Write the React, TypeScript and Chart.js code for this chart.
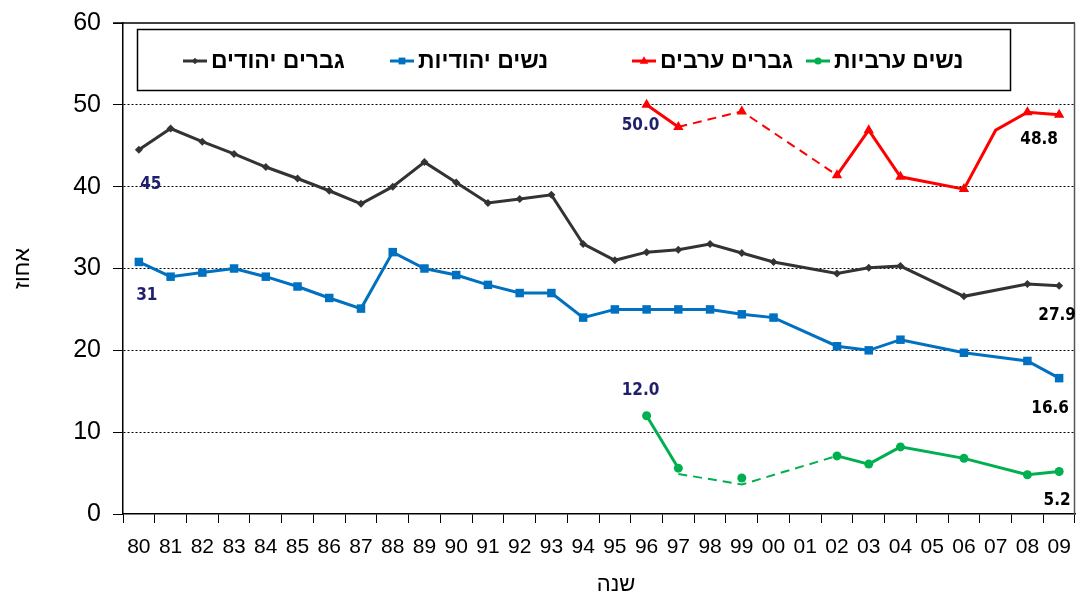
import React, { useEffect, useRef } from 'react';
import { Chart, registerables } from 'chart.js';

Chart.register(...registerables);

// ---------- data ----------
const years = ['80', '81', '82', '83', '84', '85', '86', '87', '88', '89', '90', '91', '92', '93', '94', '95', '96', '97', '98', '99', '00', '01', '02', '03', '04', '05', '06', '07', '08', '09'];

const jewishMen = [44.5, 47.1, 45.5, 44.0, 42.4, 41.0, 39.5, 37.9, 40.0, 43.0, 40.5, 38.0, 38.5, 39.0, 33.0, 31.0, 32.0, 32.3, 33.0, 31.9, 30.8, null, 29.4, 30.1, 30.3, null, 26.6, null, 28.1, 27.9];

const jewishWomen = [30.8, 29.0, 29.5, 30.0, 29.0, 27.8, 26.4, 25.1, 32.0, 30.0, 29.2, 28.0, 27.0, 27.0, 24.0, 25.0, 25.0, 25.0, 25.0, 24.4, 24.0, null, 20.5, 20.0, 21.3, null, 19.7, null, 18.7, 16.6];

const arabMen = [null, null, null, null, null, null, null, null, null, null, null, null, null, null, null, null, 50.0, 47.3, null, 49.2, null, null, 41.4, 46.9, 41.2, null, 39.7, 46.9, 49.1, 48.8];

const arabWomen = [null, null, null, null, null, null, null, null, null, null, null, null, null, null, null, null, 12.0, 5.6, null, 4.4, null, null, 7.1, 6.1, 8.2, null, 6.8, null, 4.8, 5.2];

// hand-drawn dashed link for Arab women (1997 -> 1999 -> 2002)
const arabWomenDashed = [null, null, null, null, null, null, null, null, null, null, null, null, null, null, null, null, null, 4.9, null, 3.6, null, null, 7.1, null, null, null, null, null, null, null];

const seriesNames = ['גברים יהודים', 'נשים יהודיות', 'גברים ערבים', 'נשים ערביות'];

const annotationTexts = ['45', '31', '50.0', '12.0', '48.8', '27.9', '16.6', '5.2'];

const yAxisTitle = 'אחוז';
const xAxisTitle = 'שנה';

// ---------- styles ----------
const COLORS = ['#333333', '#0070C0', '#FF0000', '#00B050'];
const NAVY = '#1F1F6B';
const POINT_STYLES = ['rectRot', 'rect', 'triangle', 'circle'];
const POINT_RADII = [4, 6, 6, 4.5];
const DASH_FROM = 17; // index of '97'
const DASH_TO = 22; // index of '02'

// annotation placement: dataset, point index, pixel offset, colour
const annotationStyle = [
  { ds: 0, idx: 0, dx: 12, dy: 35, color: NAVY },
  { ds: 1, idx: 0, dx: 8, dy: 34, color: NAVY },
  { ds: 2, idx: 16, dx: -6, dy: 21, color: NAVY },
  { ds: 3, idx: 16, dx: -6, dy: -25, color: NAVY },
  { ds: 2, idx: 29, dx: -20, dy: 25, color: '#000' },
  { ds: 0, idx: 29, dx: -2, dy: 30, color: '#000' },
  { ds: 1, idx: 29, dx: -9, dy: 30, color: '#000' },
  { ds: 3, idx: 29, dx: -2, dy: 29, color: '#000' },
];

const legendItemX = [183, 390, 632, 806];

function inDashRange(ctx: any) {
  return ctx.p0DataIndex >= DASH_FROM && ctx.p1DataIndex <= DASH_TO;
}

function drawMarker(ctx: CanvasRenderingContext2D, style: string, x: number, y: number, r: number, color: string) {
  ctx.save();
  ctx.fillStyle = color;
  ctx.strokeStyle = color;
  ctx.beginPath();
  if (style === 'rectRot') {
    ctx.moveTo(x, y - r);
    ctx.lineTo(x + r, y);
    ctx.lineTo(x, y + r);
    ctx.lineTo(x - r, y);
    ctx.closePath();
  } else if (style === 'rect') {
    const s = r * Math.SQRT1_2;
    ctx.rect(x - s, y - s, 2 * s, 2 * s);
  } else if (style === 'triangle') {
    ctx.moveTo(x, y - r);
    ctx.lineTo(x + r * 0.9, y + r * 0.55);
    ctx.lineTo(x - r * 0.9, y + r * 0.55);
    ctx.closePath();
  } else {
    ctx.arc(x, y, r, 0, Math.PI * 2);
  }
  ctx.fill();
  ctx.restore();
}

const decorPlugin = {
  id: 'decor',
  afterDatasetsDraw(chart: any) {
    const { ctx, chartArea } = chart;
    ctx.save();
    // frame: top and right
    ctx.strokeStyle = '#000';
    ctx.lineWidth = 1.5;
    ctx.beginPath();
    ctx.moveTo(chartArea.left - 10, chartArea.top);
    ctx.lineTo(chartArea.right, chartArea.top);
    ctx.stroke();
    ctx.strokeStyle = '#555';
    ctx.beginPath();
    ctx.moveTo(chartArea.right - 0.5, chartArea.top);
    ctx.lineTo(chartArea.right - 0.5, chartArea.bottom);
    ctx.stroke();

    // annotations
    ctx.textAlign = 'center';
    ctx.textBaseline = 'middle';
    annotationStyle.forEach((a, i) => {
      const pt = chart.getDatasetMeta(a.ds).data[a.idx];
      if (!pt) return;
      ctx.fillStyle = a.color;
      ctx.font = 'bold 17px "DejaVu Sans Condensed", "DejaVu Sans", sans-serif';
      ctx.fillText(annotationTexts[i], pt.x + a.dx, pt.y + a.dy);
    });

    // legend box
    const bx = 137.5, by = 29.5, bw = 873, bh = 61;
    ctx.fillStyle = '#fff';
    ctx.fillRect(bx, by, bw, bh);
    ctx.strokeStyle = '#000';
    ctx.lineWidth = 1.5;
    ctx.strokeRect(bx, by, bw, bh);
    const ly = 61;
    ctx.textAlign = 'left';
    ctx.textBaseline = 'middle';
    ctx.font = 'bold 23px "Liberation Sans", Arial, sans-serif';
    seriesNames.forEach((name, i) => {
      const x0 = legendItemX[i];
      ctx.strokeStyle = COLORS[i];
      ctx.lineWidth = 3;
      ctx.beginPath();
      ctx.moveTo(x0, ly);
      ctx.lineTo(x0 + 24, ly);
      ctx.stroke();
      drawMarker(ctx, POINT_STYLES[i], x0 + 12, ly, POINT_RADII[i] * 0.8, COLORS[i]);
      ctx.fillStyle = '#000';
      ctx.fillText(name, x0 + 28, ly + 1);
    });

    // axis titles
    ctx.fillStyle = '#000';
    ctx.font = '22px "Liberation Sans", Arial, sans-serif';
    ctx.textAlign = 'center';
    ctx.textBaseline = 'middle';
    ctx.fillText(xAxisTitle, 616, 585);
    ctx.save();
    ctx.translate(23, (chartArea.top + chartArea.bottom) / 2);
    ctx.rotate(-Math.PI / 2);
    ctx.fillText(yAxisTitle, 0, 0);
    ctx.restore();
    ctx.restore();
  },
};

function makeDataset(label: string, data: (number | null)[], i: number, extra: any = {}) {
  return {
    label,
    data,
    borderColor: COLORS[i],
    backgroundColor: COLORS[i],
    borderWidth: 3,
    pointStyle: POINT_STYLES[i],
    pointRadius: POINT_RADII[i],
    pointBorderWidth: 0,
    pointBackgroundColor: COLORS[i],
    spanGaps: true,
    tension: 0,
    ...extra,
  };
}

export default function App() {
  const canvasRef = useRef<HTMLCanvasElement | null>(null);

  useEffect(() => {
    if (!canvasRef.current) return;
    const chart = new Chart(canvasRef.current, {
      type: 'line',
      data: {
        labels: years,
        datasets: [
          makeDataset(seriesNames[0], jewishMen, 0),
          makeDataset(seriesNames[1], jewishWomen, 1),
          makeDataset(seriesNames[2], arabMen, 2, {
            pointRadius: (c: any) => (c.dataIndex === 27 ? 0 : POINT_RADII[2]),
            segment: {
              borderDash: (c: any) => (inDashRange(c) ? [9, 6] : undefined),
              borderWidth: (c: any) => (inDashRange(c) ? 2 : undefined),
            },
          }),
          makeDataset(seriesNames[3], arabWomen, 3, {
            segment: {
              borderColor: (c: any) => (inDashRange(c) ? 'rgba(0,0,0,0)' : undefined),
            },
          }),
          {
            label: 'dashed',
            data: arabWomenDashed,
            borderColor: COLORS[3],
            borderWidth: 2,
            borderDash: [9, 6],
            pointRadius: 0,
            spanGaps: true,
          },
        ],
      },
      options: {
        responsive: true,
        maintainAspectRatio: false,
        animation: false,
        layout: { padding: { top: 23, right: 1, left: 0, bottom: 0 } },
        plugins: {
          legend: { display: false },
          tooltip: { enabled: false },
        },
        scales: {
          x: {
            type: 'category',
            offset: true,
            grid: {
              display: true,
              offset: true,
              drawOnChartArea: false,
              drawTicks: true,
              tickLength: 9,
              tickColor: '#000',
              tickWidth: 1,
              color: '#000',
            },
            border: { display: true, color: '#000', width: 1.5 },
            ticks: {
              autoSkip: false,
              maxRotation: 0,
              minRotation: 0,
              padding: 12,
              color: '#000',
              font: { family: '"Liberation Sans", Arial, sans-serif', size: 21 },
            },
            afterFit: (s: any) => {
              s.height = 84;
              s.paddingLeft = 0;
              s.paddingRight = 0;
            },
          },
          y: {
            min: 0,
            max: 60,
            ticks: {
              stepSize: 10,
              padding: 12,
              color: '#000',
              font: { family: '"Liberation Sans", Arial, sans-serif', size: 25 },
            },
            grid: {
              color: (c: any) => (c.tick && (c.tick.value === 0 || c.tick.value === 60) ? 'rgba(0,0,0,0)' : '#000'),
              lineWidth: 1,
              tickLength: 10,
              tickColor: '#000',
              tickWidth: 1,
              tickBorderDash: [],
            },
            border: { display: true, color: '#000', width: 1.5, dash: [2, 2] },
            afterFit: (s: any) => {
              s.width = 123;
              s.paddingTop = 0;
              s.paddingBottom = 0;
            },
          },
        },
      },
      plugins: [decorPlugin],
    });
    return () => chart.destroy();
  }, []);

  return (
    <div style={{ position: 'fixed', left: 0, top: 0, width: 1081, height: 598, background: '#fff' }}>
      <canvas ref={canvasRef} />
    </div>
  );
}
